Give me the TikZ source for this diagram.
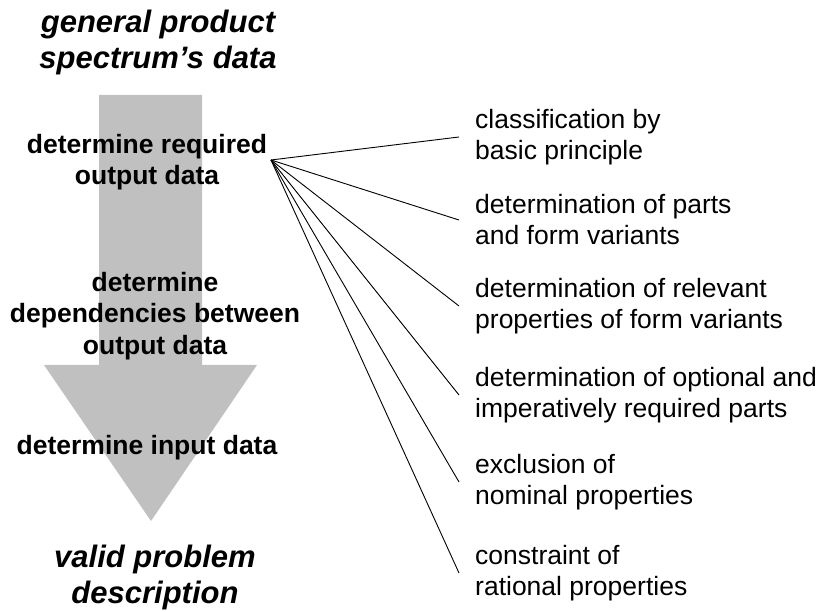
\documentclass[tikz,border=0pt]{standalone}
\usepackage{fontspec}
\setmainfont{Liberation Sans}
\usepackage{tikz}
\definecolor{lgray}{RGB}{192, 192, 192}

\begin{document}
\begin{tikzpicture}[x = 1pt, y = -1pt,
	title/.style = {align = center, inner sep = 0pt, font = \fontsize{31}{36}\selectfont\bfseries\itshape},
	stepbox/.style = {align = center, inner sep = 0pt, font = \fontsize{26.5}{31.5}\selectfont\bfseries},
	task/.style = {align = left, anchor = west, inner xsep = 16pt, inner ysep = 0pt, font = \fontsize{26.5}{31}\selectfont}]
			\useasboundingbox (0,0) rectangle (820,612);
			\fill [lgray] (99,95) -- (202,95) -- (202,365) -- (257,365) -- (151,521) -- (44,365) -- (99,365) -- cycle;
			\node (gen) at (158,42) [title] {general product\\spectrum’s data};
			\node (req) at (147,162) [stepbox] {determine required\\output data};
			\node (dep) at (155,316) [stepbox] {determine\\dependencies between\\output data};
			\node (inp) at (147,448) [stepbox] {determine input data};
			\node (val) at (155,577) [title] {valid problem\\description};
			\node (cls) at (459,137) [task] {classification by\\basic principle};
			\node (prt) at (459,220) [task] {determination of parts\\and form variants};
			\node (rel) at (459,306) [task] {determination of relevant\\properties of form variants};
			\node (opt) at (459,395) [task] {determination of optional and\\imperatively required parts};
			\node (exc) at (459,482) [task] {exclusion of\\nominal properties};
			\node (con) at (459,573) [task] {constraint of\\rational properties};
			\coordinate (fan) at (271,160);
			\draw [line width = 0.9pt] (fan) edge (cls.west);
			\draw [line width = 0.9pt] (fan) edge (prt.west);
			\draw [line width = 0.9pt] (fan) edge (rel.west);
			\draw [line width = 0.9pt] (fan) edge (opt.west);
			\draw [line width = 0.9pt] (fan) edge (exc.west);
			\draw [line width = 0.9pt] (fan) edge (con.west);
			\end{tikzpicture}
\end{document}
